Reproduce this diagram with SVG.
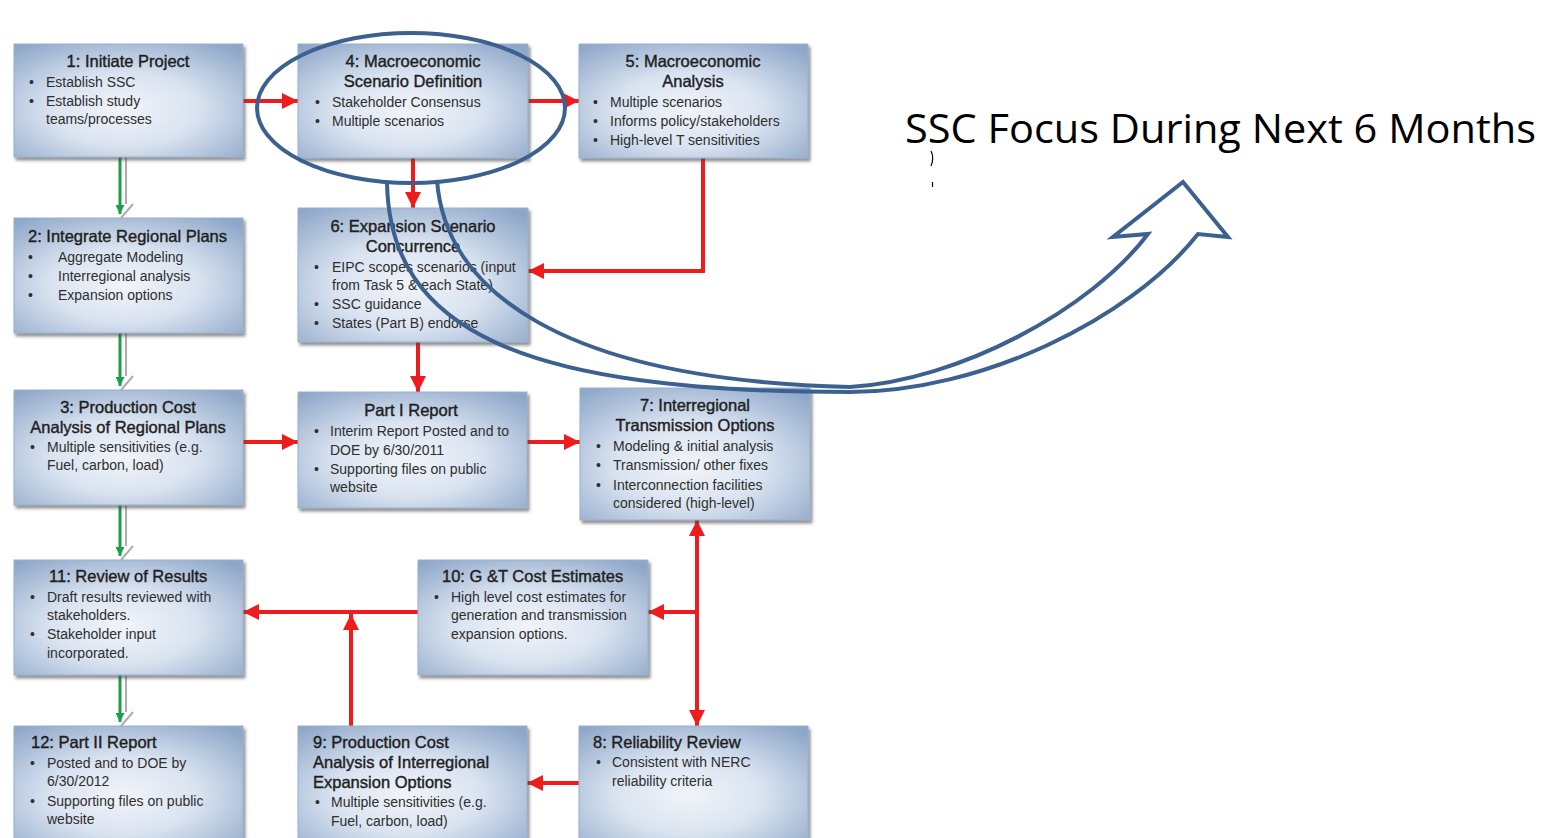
<svg xmlns="http://www.w3.org/2000/svg" width="1556" height="838" viewBox="0 0 1556 838">
<defs>
<radialGradient id="g" cx="48%" cy="58%" r="72%">
<stop offset="0" stop-color="#f1f4f9"/>
<stop offset="0.45" stop-color="#d9e3f0"/>
<stop offset="1" stop-color="#8ea7c9"/>
</radialGradient>
<filter id="sh" x="-10%" y="-10%" width="125%" height="130%">
<feDropShadow dx="2" dy="3" stdDeviation="1.8" flood-color="#4a4a4a" flood-opacity="0.6"/>
</filter>
<marker id="ra" viewBox="0 0 10 10" refX="10" refY="5" markerWidth="16" markerHeight="16" markerUnits="userSpaceOnUse" orient="auto-start-reverse">
<path d="M0,0 L10,5 L0,10 z" fill="#ee1c1c"/>
</marker>
<marker id="ga" viewBox="0 0 10 10" refX="10" refY="5" markerWidth="9" markerHeight="9" markerUnits="userSpaceOnUse" orient="auto">
<path d="M0,0 L10,5 L0,10 z" fill="#1e9e48"/>
</marker>
</defs>
<style>
.box rect{fill:url(#g);stroke:#9bb0cc;stroke-width:1;filter:url(#sh)}
.t{font-family:"Liberation Sans",Arial,sans-serif;font-size:16.5px;fill:#1e1e1e;stroke:#1e1e1e;stroke-width:0.4}
.b{font-family:"Liberation Sans",Arial,sans-serif;font-size:14px;fill:#2e2e2e}
.m{text-anchor:middle}
.red{fill:none;stroke:#ee1c1c;stroke-width:4}
.grn{fill:none;stroke:#1e9e48;stroke-width:3}
.gry{fill:none;stroke:#b3abab;stroke-width:2}
.blue{fill:none;stroke:#3c6190;stroke-width:4}
</style>
<rect width="1556" height="838" fill="#ffffff"/>

<g id="connectors">
<path class="red" d="M243,101 H298" marker-end="url(#ra)"/>
<path class="red" d="M528,101 H579" marker-end="url(#ra)"/>
<path class="red" d="M413,158 V208" marker-end="url(#ra)"/>
<path class="red" d="M703,158 V271 H528" marker-end="url(#ra)"/>
<path class="red" d="M418,342 V392" marker-end="url(#ra)"/>
<path class="red" d="M243,442 H298" marker-end="url(#ra)"/>
<path class="red" d="M527,442 H580" marker-end="url(#ra)"/>
<path class="red" d="M697,520 V726" marker-start="url(#ra)" marker-end="url(#ra)"/>
<path class="red" d="M697,612 H648" marker-end="url(#ra)"/>
<path class="red" d="M418,612 H243" marker-end="url(#ra)"/>
<path class="red" d="M351,726 V614" marker-end="url(#ra)"/>
<path class="red" d="M579,783 H527" marker-end="url(#ra)"/>

<path class="gry" d="M126,157 V204 M133,204 L121,218"/>
<path class="grn" d="M120,157 V214" marker-end="url(#ga)"/>
<path class="gry" d="M126,333 V376 M133,376 L121,390"/>
<path class="grn" d="M120,333 V386" marker-end="url(#ga)"/>
<path class="gry" d="M126,505 V546 M133,546 L121,560"/>
<path class="grn" d="M120,505 V556" marker-end="url(#ga)"/>
<path class="gry" d="M126,675 V712 M133,712 L121,726"/>
<path class="grn" d="M120,675 V722" marker-end="url(#ga)"/>
</g>

<g id="n1" class="box">
<rect x="14" y="44" width="229" height="113"/>
<text class="t m" x="128" y="67">1: Initiate Project</text>
<text class="b" x="29" y="87">•</text><text class="b" x="46" y="87">Establish SSC</text>
<text class="b" x="29" y="106">•</text><text class="b" x="46" y="106">Establish study</text>
<text class="b" x="46" y="124">teams/processes</text>
</g>

<g id="n4" class="box">
<rect x="298" y="44" width="230" height="114"/>
<text class="t m" x="413" y="67">4: Macroeconomic</text>
<text class="t m" x="413" y="87">Scenario Definition</text>
<text class="b" x="315" y="107">•</text><text class="b" x="332" y="107">Stakeholder Consensus</text>
<text class="b" x="315" y="126">•</text><text class="b" x="332" y="126">Multiple scenarios</text>
</g>

<g id="n5" class="box">
<rect x="579" y="44" width="229" height="114"/>
<text class="t m" x="693" y="67">5: Macroeconomic</text>
<text class="t m" x="693" y="87">Analysis</text>
<text class="b" x="593" y="107">•</text><text class="b" x="610" y="107">Multiple scenarios</text>
<text class="b" x="593" y="126">•</text><text class="b" x="610" y="126">Informs policy/stakeholders</text>
<text class="b" x="593" y="145">•</text><text class="b" x="610" y="145">High-level T sensitivities</text>
</g>

<g id="n2" class="box">
<rect x="14" y="218" width="229" height="115"/>
<text class="t" x="28" y="242">2: Integrate Regional Plans</text>
<text class="b" x="28" y="262">•</text><text class="b" x="58" y="262">Aggregate Modeling</text>
<text class="b" x="28" y="281">•</text><text class="b" x="58" y="281">Interregional analysis</text>
<text class="b" x="28" y="300">•</text><text class="b" x="58" y="300">Expansion options</text>
</g>

<g id="n6" class="box">
<rect x="298" y="208" width="230" height="134"/>
<text class="t m" x="413" y="232">6: Expansion Scenario</text>
<text class="t m" x="413" y="252">Concurrence</text>
<text class="b" x="314" y="272">•</text><text class="b" x="332" y="272">EIPC scopes scenarios (input</text>
<text class="b" x="332" y="290">from Task 5 &amp; each State)</text>
<text class="b" x="314" y="309">•</text><text class="b" x="332" y="309">SSC guidance</text>
<text class="b" x="314" y="328">•</text><text class="b" x="332" y="328">States (Part B) endorse</text>
</g>

<g id="n3" class="box">
<rect x="14" y="390" width="229" height="115"/>
<text class="t m" x="128" y="413">3: Production Cost</text>
<text class="t m" x="128" y="433">Analysis of Regional Plans</text>
<text class="b" x="30" y="452">•</text><text class="b" x="47" y="452">Multiple sensitivities (e.g.</text>
<text class="b" x="47" y="470">Fuel, carbon, load)</text>
</g>

<g id="partI" class="box">
<rect x="298" y="392" width="229" height="116"/>
<text class="t m" x="411" y="416">Part I Report</text>
<text class="b" x="314" y="436">•</text><text class="b" x="330" y="436">Interim Report Posted and to</text>
<text class="b" x="330" y="455">DOE by 6/30/2011</text>
<text class="b" x="314" y="474">•</text><text class="b" x="330" y="474">Supporting files on public</text>
<text class="b" x="330" y="492">website</text>
</g>

<g id="n7" class="box">
<rect x="580" y="388" width="230" height="132"/>
<text class="t m" x="695" y="411">7: Interregional</text>
<text class="t m" x="695" y="431">Transmission Options</text>
<text class="b" x="596" y="451">•</text><text class="b" x="613" y="451">Modeling &amp; initial analysis</text>
<text class="b" x="596" y="470">•</text><text class="b" x="613" y="470">Transmission/ other fixes</text>
<text class="b" x="596" y="490">•</text><text class="b" x="613" y="490">Interconnection facilities</text>
<text class="b" x="613" y="508">considered (high-level)</text>
</g>

<g id="n11" class="box">
<rect x="14" y="560" width="229" height="115"/>
<text class="t" x="49" y="582">11: Review of Results</text>
<text class="b" x="30" y="602">•</text><text class="b" x="47" y="602">Draft results reviewed with</text>
<text class="b" x="47" y="620">stakeholders.</text>
<text class="b" x="30" y="639">•</text><text class="b" x="47" y="639">Stakeholder input</text>
<text class="b" x="47" y="658">incorporated.</text>
</g>

<g id="n10" class="box">
<rect x="418" y="560" width="230" height="115"/>
<text class="t" x="442" y="582">10: G &amp;T Cost Estimates</text>
<text class="b" x="434" y="602">•</text><text class="b" x="451" y="602">High level cost estimates for</text>
<text class="b" x="451" y="620">generation and transmission</text>
<text class="b" x="451" y="639">expansion options.</text>
</g>

<g id="n12" class="box">
<rect x="14" y="726" width="229" height="120"/>
<text class="t" x="31" y="748">12: Part II Report</text>
<text class="b" x="30" y="768">•</text><text class="b" x="47" y="768">Posted and to DOE by</text>
<text class="b" x="47" y="786">6/30/2012</text>
<text class="b" x="30" y="806">•</text><text class="b" x="47" y="806">Supporting files on public</text>
<text class="b" x="47" y="824">website</text>
</g>

<g id="n9" class="box">
<rect x="298" y="726" width="229" height="120"/>
<text class="t" x="313" y="748">9: Production Cost</text>
<text class="t" x="313" y="768">Analysis of Interregional</text>
<text class="t" x="313" y="788">Expansion Options</text>
<text class="b" x="315" y="807">•</text><text class="b" x="331" y="807">Multiple sensitivities (e.g.</text>
<text class="b" x="331" y="826">Fuel, carbon, load)</text>
</g>

<g id="n8" class="box">
<rect x="579" y="726" width="229" height="120"/>
<text class="t" x="593" y="748">8: Reliability Review</text>
<text class="b" x="596" y="767">•</text><text class="b" x="612" y="767">Consistent with NERC</text>
<text class="b" x="612" y="786">reliability criteria</text>
</g>

<g id="focus">
<ellipse class="blue" cx="411" cy="108" rx="154" ry="75"/>
<path class="blue" stroke-linejoin="miter" d="M387,183 C390,330 520,392 850,392 C980,392 1130,320 1198,234 L1228,237 L1183,182 L1113,237 L1148,234 C1090,310 960,380 850,387 C560,380 445,290 437,180"/>
<text x="905" y="143" textLength="631" lengthAdjust="spacingAndGlyphs" style="font-family:'Open Sans','Noto Sans',sans-serif;font-size:41px;fill:#000">SSC Focus During Next 6 Months</text>
<path d="M931,151 Q934.5,158 931,166 M932.5,182 V187" fill="none" stroke="#000" stroke-width="1.2"/>
</g>
</svg>
